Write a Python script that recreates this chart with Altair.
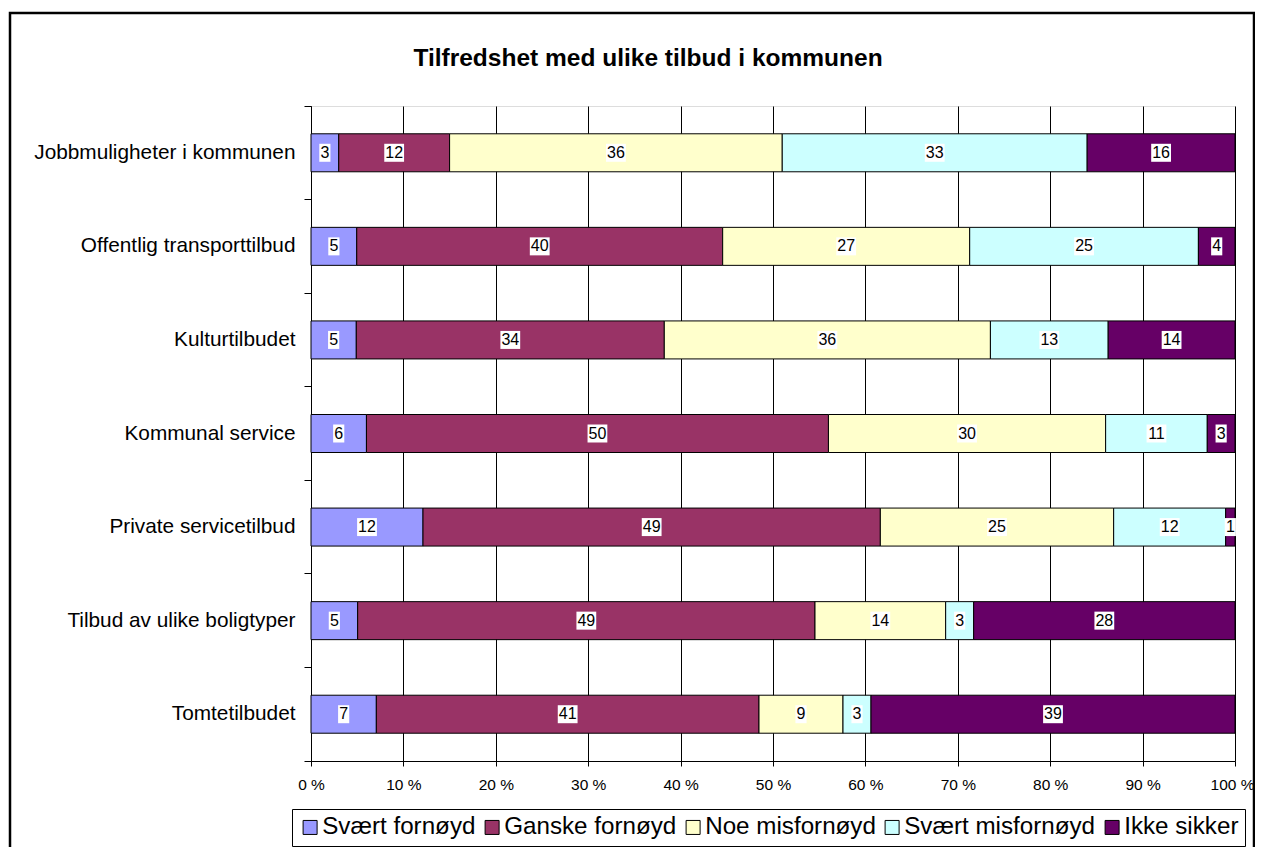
import altair as alt
import pandas as pd

categories = [
    "Jobbmuligheter i kommunen",
    "Offentlig transporttilbud",
    "Kulturtilbudet",
    "Kommunal service",
    "Private servicetilbud",
    "Tilbud av ulike boligtyper",
    "Tomtetilbudet",
]
series = ["Svært fornøyd", "Ganske fornøyd", "Noe misfornøyd", "Svært misfornøyd", "Ikke sikker"]
svaert_fornoyd = [3, 5, 5, 6, 12, 5, 7]
ganske_fornoyd = [12, 40, 34, 50, 49, 49, 41]
noe_misfornoyd = [36, 27, 36, 30, 25, 14, 9]
svaert_misfornoyd = [33, 25, 13, 11, 12, 3, 3]
ikke_sikker = [16, 4, 14, 3, 1, 28, 39]
colors = ["#9999FF", "#993366", "#FFFFCC", "#CCFFFF", "#660066"]
x_ticks = [0, 0.1, 0.2, 0.3, 0.4, 0.5, 0.6, 0.7, 0.8, 0.9, 1.0]
title_text = "Tilfredshet med ulike tilbud i kommunen"

FONT = "Liberation Sans"

rows = []
for si, (name, vals) in enumerate(zip(series, [svaert_fornoyd, ganske_fornoyd, noe_misfornoyd,
                                              svaert_misfornoyd, ikke_sikker])):
    for cat, v in zip(categories, vals):
        rows.append({"cat": cat, "series": name, "value": v, "order": si,
                     "digits": str(len(str(v)))})
df = pd.DataFrame(rows)

box1 = "M-0.62,-1L0.62,-1L0.62,1L-0.62,1Z"
box2 = "M-1.1,-1L1.1,-1L1.1,1L-1.1,1Z"

yscale = alt.Scale(paddingInner=0, paddingOuter=0)
xscale = alt.Scale(domain=[0, 1])


def x_axis():
    return alt.Axis(title=None, values=x_ticks,
                    labelExpr="round(datum.value*100) + ' %'",
                    grid=True, gridColor="black", gridWidth=1,
                    tickSize=5, tickColor="black", domainColor="black",
                    labelFont=FONT, labelFontSize=15.5, labelColor="black",
                    labelPadding=11, labelFlush=False,
                    labelOffset={"condition": {"test": "datum.value >= 1", "value": -3},
                                 "value": 0})


base = alt.Chart(df)

frame = alt.Chart(pd.DataFrame({"k": [0]})).mark_rect(
    filled=False, stroke="black", strokeWidth=2.5
).encode(
    x=alt.value(-301), x2=alt.value(943), y=alt.value(-93), y2=alt.value(780)
)

bars = base.mark_bar(stroke="black", strokeWidth=1, size=38).encode(
    y=alt.Y("cat:N", sort=categories, scale=yscale,
            axis=alt.Axis(title=None, orient="left", labels=False, ticks=True, tickSize=7,
                          tickColor="black", tickWidth=1, bandPosition=1, tickExtra=True,
                          domain=True, domainColor="black", grid=False)),
    x=alt.X("value:Q", stack="normalize", scale=xscale, axis=x_axis()),
    color=alt.Color("series:N", scale=alt.Scale(domain=series, range=colors),
                    legend=alt.Legend(title=None, orient="none", legendX=-19, legendY=703,
                                      direction="horizontal", columns=5,
                                      symbolType="square", symbolSize=196,
                                      symbolStrokeColor="black", symbolStrokeWidth=1,
                                      symbolOpacity=1,
                                      labelFont=FONT, labelFontSize=24.2, labelColor="black",
                                      labelLimit=400, labelOffset=0,
                                      strokeColor="black", fillColor="white",
                                      padding=6, columnPadding=4)),
    order=alt.Order("order:Q"),
)

stacked = base.transform_stack(
    stack="value", groupby=["cat"], as_=["x0", "x1"], offset="normalize",
    sort=[alt.SortField("order", order="ascending")]
).transform_calculate(mid="(datum.x0 + datum.x1) / 2")

boxes = stacked.mark_point(filled=True, fill="white", opacity=1, size=324, strokeWidth=0).encode(
    x=alt.X("mid:Q", scale=xscale, axis=x_axis()),
    y=alt.Y("cat:N", sort=categories, axis=None),
    shape=alt.Shape("digits:N", scale=alt.Scale(domain=["1", "2"], range=[box1, box2]), legend=None),
)

labels = stacked.mark_text(font=FONT, fontSize=16, color="black", baseline="middle").encode(
    x=alt.X("mid:Q", scale=xscale, axis=x_axis()),
    y=alt.Y("cat:N", sort=categories,
            axis=alt.Axis(title=None, orient="left", labels=True, ticks=False, domain=False,
                          grid=False, labelFont=FONT, labelFontSize=20.8, labelColor="black",
                          labelPadding=16, labelLimit=400)),
    text=alt.Text("value:Q"),
)

chart = alt.layer(frame, bars, boxes, labels).resolve_axis(y="independent").properties(
    width=924,
    height=655,
    autosize=alt.AutoSizeParams(type="none"),
    padding={"left": 303, "top": 98, "right": 20, "bottom": 86},
    title=alt.TitleParams(title_text, font=FONT, fontSize=24.5, fontWeight="bold",
                          color="black", anchor="middle", frame="group", dx=-125,
                          offset=0, dy=79, baseline="alphabetic"),
).configure_view(stroke="#808080", strokeWidth=1).configure(background="white")

chart.save("out.html", embed_options={"renderer": "svg", "actions": False})
